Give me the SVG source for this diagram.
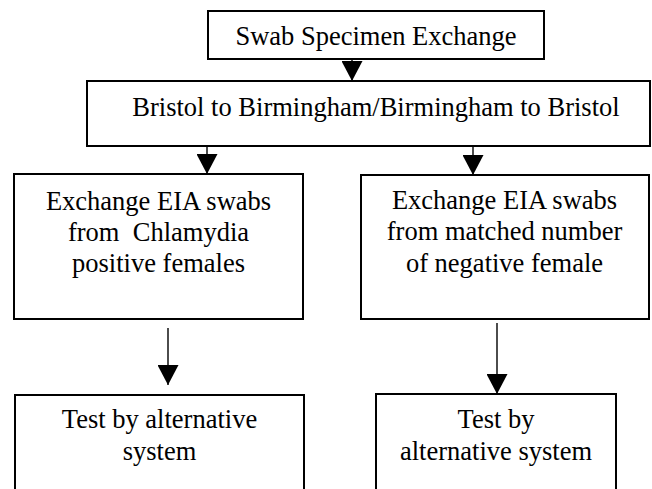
<svg xmlns="http://www.w3.org/2000/svg" width="652" height="489" viewBox="0 0 652 489">
  <style>
    .box { fill: #ffffff; stroke: #000000; stroke-width: 2; }
    .lbl { font-family: "Liberation Serif", "Times New Roman", serif; font-size: 26.5px; fill: #000000; text-anchor: middle; }
    .conn { stroke: #000000; stroke-width: 1.4; fill: none; marker-end: url(#ah); }
  </style>
  <defs>
    <marker id="ah" markerUnits="userSpaceOnUse" markerWidth="20" markerHeight="21" refX="20" refY="10.5" orient="auto">
      <path d="M0,0 L20,10.5 L0,21 z" fill="#000000"/>
    </marker>
  </defs>
  <rect width="652" height="489" fill="#ffffff"/>

  <g id="swab-exchange">
    <rect class="box" x="208" y="11" width="336" height="48"/>
    <text class="lbl" x="376" y="45">Swab Specimen Exchange</text>
  </g>

  <g id="route">
    <rect class="box" x="87" y="81" width="563" height="65"/>
    <text class="lbl" x="376" y="116">Bristol to Birmingham/Birmingham to Bristol</text>
  </g>

  <g id="positive-swabs">
    <rect class="box" x="14" y="174" width="289" height="145"/>
    <text class="lbl" x="158.5" y="210">Exchange EIA swabs</text>
    <text class="lbl" x="158.5" y="241" xml:space="preserve">from  Chlamydia</text>
    <text class="lbl" x="158.5" y="272">positive females</text>
  </g>

  <g id="negative-swabs">
    <rect class="box" x="361" y="175" width="288" height="144"/>
    <text class="lbl" x="504.5" y="209">Exchange EIA swabs</text>
    <text class="lbl" x="504.5" y="240">from matched number</text>
    <text class="lbl" x="504.5" y="272">of negative female</text>
  </g>

  <g id="test-left">
    <rect class="box" x="15" y="395" width="289" height="110"/>
    <text class="lbl" x="159.5" y="428">Test by alternative</text>
    <text class="lbl" x="159.5" y="460">system</text>
  </g>

  <g id="test-right">
    <rect class="box" x="376" y="394" width="240" height="110"/>
    <text class="lbl" x="496" y="428">Test by</text>
    <text class="lbl" x="496" y="460">alternative system</text>
  </g>

  <g id="connectors">
    <line class="conn" x1="352" y1="59" x2="352" y2="81"/>
    <line class="conn" x1="207" y1="146" x2="207" y2="174"/>
    <line class="conn" x1="473" y1="146" x2="473" y2="175"/>
    <line class="conn" x1="168" y1="328" x2="168" y2="385"/>
    <line class="conn" x1="497" y1="323" x2="497" y2="394"/>
  </g>
</svg>
